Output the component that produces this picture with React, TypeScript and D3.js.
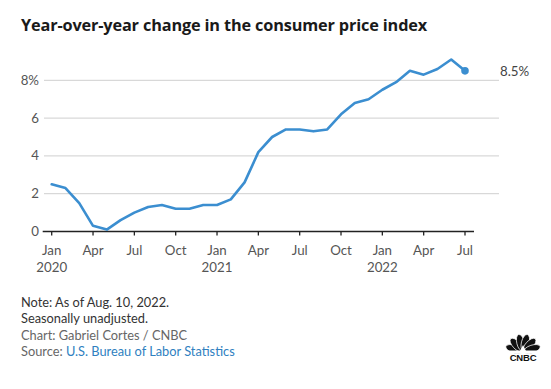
import React from 'react';
import * as d3 from 'd3';

// CPI year-over-year change, Jan 2020 .. Jul 2022 (monthly)
const months = [
  'Jan 2020', 'Feb 2020', 'Mar 2020', 'Apr 2020', 'May 2020', 'Jun 2020',
  'Jul 2020', 'Aug 2020', 'Sep 2020', 'Oct 2020', 'Nov 2020', 'Dec 2020',
  'Jan 2021', 'Feb 2021', 'Mar 2021', 'Apr 2021', 'May 2021', 'Jun 2021',
  'Jul 2021', 'Aug 2021', 'Sep 2021', 'Oct 2021', 'Nov 2021', 'Dec 2021',
  'Jan 2022', 'Feb 2022', 'Mar 2022', 'Apr 2022', 'May 2022', 'Jun 2022',
  'Jul 2022',
];
const cpi = [
  2.5, 2.3, 1.5, 0.3, 0.1, 0.6, 1.0, 1.3, 1.4, 1.2, 1.2, 1.4,
  1.4, 1.7, 2.6, 4.2, 5.0, 5.4, 5.4, 5.3, 5.4, 6.2, 6.8, 7.0,
  7.5, 7.9, 8.5, 8.3, 8.6, 9.1, 8.5,
];
const xTickMonths = ['Jan', 'Apr', 'Jul', 'Oct', 'Jan', 'Apr', 'Jul', 'Oct', 'Jan', 'Apr', 'Jul'];
const xTickYears = ['2020', '', '', '', '2021', '', '', '', '2022', '', ''];
const yTicks = [0, 2, 4, 6, 8];

const BLUE = '#3b8ed0';
const FONT = 'Lato, "Open Sans", sans-serif';

const Peacock = ({ x, y }: { x: number; y: number }) => {
  // rough CNBC mark: six feathers fanned above the wordmark
  const angles = [-72, -43, -14, 14, 43, 72];
  return (
    <g transform={`translate(${x},${y})`}>
      {angles.map((a, i) => (
        <ellipse key={i} cx={0} cy={-9.5} rx={3.9} ry={8.5} fill="#111"
          stroke="#fff" strokeWidth={0.7} transform={`rotate(${a})`} />
      ))}
      <path d="M-3,-1 L0,-7 L3,-1 Z" fill="#fff" />
      <rect x={-18} y={-1.5} width={36} height={3} fill="#fff" />
      <text x={0} y={9} textAnchor="middle" fontFamily="Arial, sans-serif"
        fontWeight={900} fontSize={9.5} fill="#111" letterSpacing={-0.2}>CNBC</text>
    </g>
  );
};

const App = () => {
  const width = 551;
  const height = 389;

  const x = d3.scaleLinear().domain([0, months.length - 1]).range([51.7, 465]);
  const y = d3.scaleLinear().domain([0, 8]).range([231.5, 80.3]);

  const line = d3.line<number>()
    .x((_, i) => x(i))
    .y(d => y(d))
    .curve(d3.curveLinear);

  const last = cpi.length - 1;
  const tickIdx = xTickMonths.map((_, i) => i * 3);

  return (
    <svg width={width} height={height}
      style={{ position: 'absolute', left: 0, top: 0, background: '#fff' }}
      fontFamily={FONT}>
      <text x={21} y={31} fontSize={16.3} fontWeight={700} fill="#1a1a1a"
        fontFamily='"Open Sans", Lato, sans-serif' letterSpacing={-0.15}>
        Year-over-year change in the consumer price index
      </text>

      {yTicks.filter(t => t > 0).map(t => (
        <line key={t} x1={44} x2={499} y1={y(t)} y2={y(t)} stroke="#cfcfcf" strokeWidth={1} />
      ))}
      {yTicks.map(t => (
        <text key={t} x={39} y={y(t) + 4.5} textAnchor="end" fontSize={13.3} fill="#555">
          {t === 8 ? '8%' : t}
        </text>
      ))}

      <line x1={42.7} x2={474} y1={y(0)} y2={y(0)} stroke="#222" strokeWidth={1.3} />
      {tickIdx.map((m, i) => (
        <g key={i} transform={`translate(${x(m)},0)`}>
          <line y1={y(0)} y2={y(0) + 4} stroke="#222" strokeWidth={1.3} />
          <text y={255} textAnchor="middle" fontSize={13.3} fill="#555">{xTickMonths[i]}</text>
          {xTickYears[i] && (
            <text y={272} textAnchor="middle" fontSize={13.3} fill="#555">{xTickYears[i]}</text>
          )}
        </g>
      ))}

      <path d={line(cpi) ?? ''} fill="none" stroke={BLUE} strokeWidth={2.6}
        strokeLinejoin="round" strokeLinecap="round" />
      <circle cx={x(last)} cy={y(cpi[last])} r={3.8} fill={BLUE} />
      <text x={500} y={y(cpi[last]) + 5} fontSize={13.3} fill="#444">
        {cpi[last]}%
      </text>

      <g fontSize={12.8}>
        <text x={21} y={307} fill="#333">Note: As of Aug. 10, 2022.</text>
        <text x={21} y={323} fill="#333">Seasonally unadjusted.</text>
        <text x={21} y={340} fill="#666">Chart: Gabriel Cortes / CNBC</text>
        <text x={21} y={356} fill="#666">
          Source: <tspan fill="#2f7fbf">U.S. Bureau of Labor Statistics</tspan>
        </text>
      </g>

      <Peacock x={523} y={352} />
    </svg>
  );
};

export default App;
